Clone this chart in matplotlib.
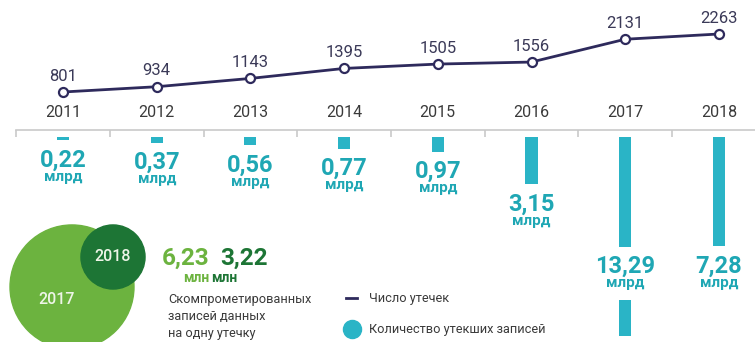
import numpy as np
import matplotlib
matplotlib.use('Agg')
import matplotlib.pyplot as plt
from matplotlib.patches import Circle
from matplotlib.lines import Line2D

plt.rcParams['font.family'] = ['Roboto', 'DejaVu Sans']

# data
years = ['2011', '2012', '2013', '2014', '2015', '2016', '2017', '2018']
leaks = [801, 934, 1143, 1395, 1505, 1556, 2131, 2263]           # число утечек
records_bn = [0.22, 0.37, 0.56, 0.77, 0.97, 3.15, 13.29, 7.28]    # утекшие записи, млрд
per_leak_years = ['2017', '2018']
per_leak_mln = [6.23, 3.22]                                       # записей на одну утечку, млн

NAVY = '#2e2a5c'
TEAL = '#2ab4c6'
TEAL_TXT = '#1fa7b4'
LIGHT_GREEN = '#6cb33f'
DARK_GREEN = '#1d7535'
GREY_TXT = '#3a3a3a'

W, H = 755, 342
fig = plt.figure(figsize=(W / 100, H / 100), dpi=100)
fig.patch.set_facecolor('white')


def box(x0, y0, x1, y1):
    # pixel box with origin at top-left -> figure rect
    return [x0 / W, 1 - y1 / H, (x1 - x0) / W, (y1 - y0) / H]


def fx(x):
    return x / W


def fy(y):
    return 1 - y / H


def comma(v):
    return f'{v:.2f}'.replace('.', ',')


x = np.arange(len(years))
step = 93.7
first = 63
xlim = (-first / step, (W - first) / step)

# --- line: number of leaks ---
ax1 = fig.add_axes(box(0, 0, W, 130))
ax1.set_xlim(*xlim)
ax1.set_ylim(-157, 3120)
ax1.axis('off')
ax1.plot(x, leaks, color=NAVY, lw=2, marker='o', ms=6.5, mfc='white',
         mec=NAVY, mew=1.6, zorder=3, clip_on=False)
for i, v in zip(x, leaks):
    ax1.annotate(str(v), (i, v), xytext=(0, 6), textcoords='offset points',
                 ha='center', va='bottom', fontsize=12, color='#3b3a58')

# --- bars: leaked records ---
ax2 = fig.add_axes(box(0, 130, W, H))
ax2.set_xlim(*xlim)
ax2.set_ylim(205 / 15, -7 / 15)
for s in ['left', 'right', 'bottom']:
    ax2.spines[s].set_visible(False)
ax2.spines['top'].set_color('#c9c9c9')
ax2.spines['top'].set_linewidth(1.2)
ax2.spines['top'].set_bounds(-0.5, xlim[1])
ax2.set_yticks([])
ax2.xaxis.tick_top()
ax2.set_xticks(x)
ax2.set_xticklabels(years, fontsize=11.5, color=GREY_TXT)
ax2.set_xticks(x - 0.5, minor=True)
ax2.tick_params(axis='x', which='major', length=0, pad=7)
ax2.tick_params(axis='x', which='minor', direction='in', length=5,
                width=1.2, color='#c9c9c9')

ax2.bar(x, records_bn, width=0.13, color=TEAL, zorder=2)

long_label_at = 7.3
for i, v in zip(x, records_bn):
    base = v if v < 10 else long_label_at
    if v >= 10:
        ax2.bar(i, 3.5, bottom=base + 0.05, width=0.25, color='white', zorder=2.5)
    ax2.text(i, base + 1.75, comma(v), ha='center', va='baseline', fontsize=17,
             fontweight='bold', color=TEAL_TXT, zorder=3)
    ax2.text(i, base + 2.72, 'млрд', ha='center', va='baseline', fontsize=11,
             fontweight='bold', color=TEAL_TXT, zorder=3)

# --- circles: records per leak ---
u = 9.95  # px per million
ax3 = fig.add_axes(box(0, 215, 160, H))
ax3.set_xlim(0, 160 / u)
ax3.set_ylim(127 / u, 0)
ax3.axis('off')
top = 1.0
centers_x = [72 / u, 113 / u]
colors = [LIGHT_GREEN, DARK_GREEN]
for cx, r, c in zip(centers_x, per_leak_mln, colors):
    ax3.add_patch(Circle((cx, top + r), r, color=c, clip_on=False))
ax3.text(57 / u, 85 / u, per_leak_years[0], ha='center', va='center',
         fontsize=11.5, fontweight='medium', color='#eef5e8')
ax3.text(centers_x[1], top + per_leak_mln[1], per_leak_years[1], ha='center',
         va='center', fontsize=11.5, fontweight='medium', color='#eef5e8')

fig.text(fx(186), fy(265), comma(per_leak_mln[0]), ha='center', va='baseline',
         fontsize=17.5, fontweight='bold', color=LIGHT_GREEN)
fig.text(fx(244), fy(265), comma(per_leak_mln[1]), ha='center', va='baseline',
         fontsize=17.5, fontweight='bold', color=DARK_GREEN)
fig.text(fx(196), fy(282), 'млн', ha='center', va='baseline', fontsize=10,
         fontweight='bold', color=LIGHT_GREEN)
fig.text(fx(224), fy(282), 'млн', ha='center', va='baseline', fontsize=10,
         fontweight='bold', color=DARK_GREEN)
for k, line in enumerate(['Скомпрометированных', 'записей данных', 'на одну утечку']):
    fig.text(fx(168), fy(303 + 17 * k), line, ha='left', va='baseline',
             fontsize=9.2, color=GREY_TXT)

# --- legend ---
fig.add_artist(Line2D([fx(346), fx(357)], [fy(298), fy(298)], color=NAVY, lw=2))
fig.text(fx(369), fy(302), 'Число утечек', ha='left', va='baseline',
         fontsize=9.2, color=GREY_TXT)
fig.add_artist(Line2D([fx(352)], [fy(329)], marker='o', ms=13, color=TEAL, lw=0))
fig.text(fx(369), fy(333), 'Количество утекших записей', ha='left',
         va='baseline', fontsize=9.2, color=GREY_TXT)

fig.savefig('out.png', dpi=100, facecolor='white')
